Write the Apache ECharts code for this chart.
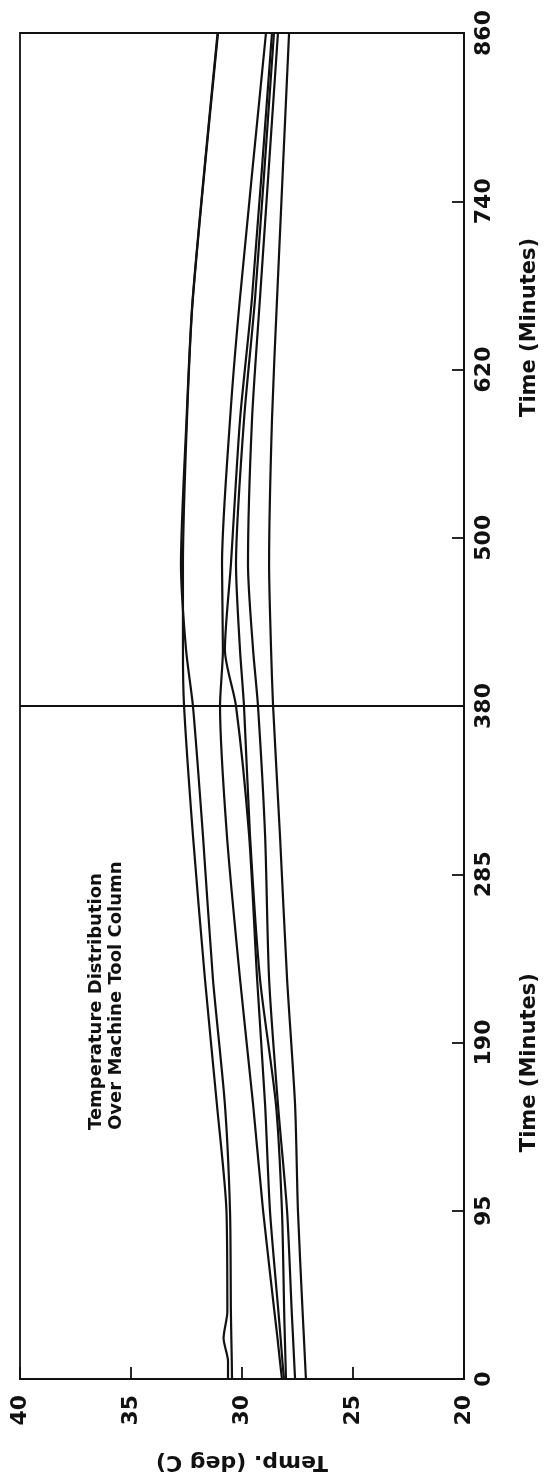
<!DOCTYPE html>
<html>
<head>
<meta charset="utf-8">
<script src="https://cdn.jsdelivr.net/npm/echarts@6/dist/echarts.min.js"></script>
<style>
  html, body { margin: 0; padding: 0; background: #ffffff; }
  #chart { width: 550px; height: 1481px; }
</style>
</head>
<body>
<div id="chart"></div>
<script>
// Time axis: 95-minute steps up to 380, then 120-minute steps, all evenly spaced
const timeTicks = [0, 95, 190, 285, 380, 500, 620, 740, 860];
const tempTicks = [20, 25, 30, 35, 40];

// Sample times (minutes) shared by every sensor trace
const times = [0, 10, 23, 38, 95, 155, 226, 307, 380, 420, 481, 584, 671, 860];

// Temperatures (deg C) for the seven sensors on the column
const sensor1 = [30.63, 30.63, 30.83, 30.66, 30.70, 31.13, 31.67, 32.21, 32.61, 32.66, 32.66, 32.48, 32.21, 31.08];
const sensor2 = [30.45, 30.46, 30.48, 30.50, 30.54, 30.77, 31.31, 31.76, 32.21, 32.52, 32.75, 32.50, 32.22, 31.10];
const sensor3 = [28.20, 28.29, 28.40, 28.54, 29.05, 29.50, 30.09, 30.68, 30.99, 30.86, 30.90, 30.54, 30.09, 28.92];
const sensor4 = [28.11, 28.18, 28.26, 28.36, 28.74, 28.96, 29.32, 29.68, 30.27, 30.77, 30.50, 30.09, 29.55, 28.65];
const sensor5 = [28.02, 28.04, 28.07, 28.10, 28.20, 28.47, 29.19, 29.64, 29.91, 30.09, 30.27, 29.91, 29.41, 28.56];
const sensor6 = [27.61, 27.65, 27.70, 27.76, 27.97, 28.38, 28.78, 28.96, 29.28, 29.50, 29.73, 29.55, 29.19, 28.38];
const sensor7 = [27.12, 27.16, 27.21, 27.27, 27.48, 27.61, 27.97, 28.29, 28.60, 28.69, 28.78, 28.65, 28.42, 27.88];

const sensors = [sensor1, sensor2, sensor3, sensor4, sensor5, sensor6, sensor7];

// Position of a time on the piecewise axis (one unit per tick interval)
function timePos(t) {
  return t <= 380 ? t / 95 : 4 + (t - 380) / 120;
}

const INK = '#111111';
const FONT = 'DejaVu Sans';

const series = sensors.map((vals, k) => ({
  type: 'line',
  name: 'Sensor ' + (k + 1),
  data: times.map((t, i) => [vals[i], timePos(t)]),
  showSymbol: false,
  smooth: 0.25,
  lineStyle: { color: INK, width: 2.2 },
  silent: true,
  z: 3
}));

// Divider between the two time scales
series[0].markLine = {
  silent: true,
  symbol: ['none', 'none'],
  label: { show: false },
  lineStyle: { color: INK, width: 1.8, type: 'solid' },
  data: [{ yAxis: timePos(380) }]
};

const chart = echarts.init(document.getElementById('chart'));

chart.setOption({
  animation: false,
  backgroundColor: '#ffffff',
  grid: {
    left: 20, right: 86, top: 33, bottom: 102,
    show: true, borderColor: INK, borderWidth: 1.8,
    containLabel: false
  },
  xAxis: {
    type: 'value',
    min: tempTicks[0], max: tempTicks[tempTicks.length - 1], interval: 5,
    inverse: true,
    position: 'bottom',
    name: 'Temp. (deg C)',
    nameLocation: 'middle',
    nameRotate: 180,
    nameGap: 72,
    nameTextStyle: { fontFamily: FONT, fontWeight: 'bold', fontSize: 22, color: INK },
    axisLine: { show: true, lineStyle: { color: INK, width: 1.8 } },
    axisTick: { show: true, inside: true, length: 12, lineStyle: { color: INK, width: 1.8 } },
    axisLabel: {
      rotate: 90, margin: 16,
      fontFamily: FONT, fontWeight: 'bold', fontSize: 22, color: INK,
      formatter: v => String(v)
    },
    splitLine: { show: false }
  },
  yAxis: {
    type: 'value',
    min: 0, max: timeTicks.length - 1, interval: 1,
    position: 'right',
    axisLine: { show: true, lineStyle: { color: INK, width: 1.8 } },
    axisTick: { show: true, inside: true, length: 12, lineStyle: { color: INK, width: 1.8 } },
    axisLabel: {
      rotate: 90, margin: 9,
      fontFamily: FONT, fontWeight: 'bold', fontSize: 22, color: INK,
      formatter: v => String(timeTicks[Math.round(v)])
    },
    splitLine: { show: false }
  },
  series: series
});

// Rotated axis titles and the in-plot caption, placed through the axes
const lowTitle = chart.convertToPixel({ yAxisIndex: 0 }, 1.88);
const highTitle = chart.convertToPixel({ yAxisIndex: 0 }, 6.25);
const capAnchor = chart.convertToPixel({ gridIndex: 0 }, [36.1, 1.48]);
const titleX = chart.getWidth() - 20;

chart.setOption({
  graphic: [
    {
      type: 'text', x: titleX, y: lowTitle, rotation: Math.PI / 2,
      style: { text: 'Time (Minutes)', font: 'bold 21px "DejaVu Sans"', fill: INK, align: 'center', verticalAlign: 'middle' }
    },
    {
      type: 'text', x: titleX, y: highTitle, rotation: Math.PI / 2,
      style: { text: 'Time (Minutes)', font: 'bold 21px "DejaVu Sans"', fill: INK, align: 'center', verticalAlign: 'middle' }
    },
    {
      type: 'text', x: capAnchor[0], y: capAnchor[1], rotation: Math.PI / 2,
      style: {
        text: 'Temperature Distribution\nOver Machine Tool Column',
        font: 'bold 18px "DejaVu Sans"', lineHeight: 20,
        fill: INK, align: 'left', verticalAlign: 'middle'
      }
    }
  ]
});
</script>
</body>
</html>
